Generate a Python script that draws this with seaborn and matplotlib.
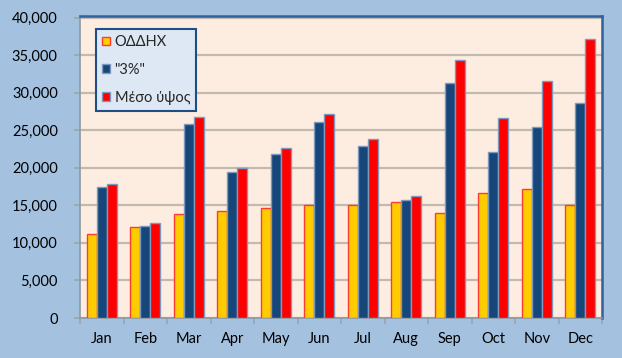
import numpy as np
import pandas as pd
import matplotlib
matplotlib.use("Agg")
import matplotlib.pyplot as plt
from matplotlib.patches import Patch
from matplotlib.ticker import FuncFormatter, FixedLocator
import seaborn as sns

months = ["Jan", "Feb", "Mar", "Apr", "May", "Jun", "Jul", "Aug", "Sep", "Oct", "Nov", "Dec"]
series_names = ["ΟΔΔΗΧ", "\"3%\"", "Μέσο ύψος"]
oddhx = [11200, 12100, 13800, 14200, 14600, 15100, 15100, 15400, 14000, 16700, 17200, 15100]
three_pct = [17400, 12200, 25800, 19400, 21800, 26100, 22900, 15700, 31300, 22100, 25400, 28600]
meso = [17900, 12600, 26700, 20000, 22600, 27100, 23800, 16300, 34300, 26600, 31600, 37200]

colors = ["#FFCC00", "#17477A", "#FF0000"]
edges = ["#FF3B30", "#7F99BE", "#7F99BE"]

df = pd.DataFrame({
    "month": months * 3,
    "series": [series_names[0]] * 12 + [series_names[1]] * 12 + [series_names[2]] * 12,
    "value": oddhx + three_pct + meso,
})

sns.set_theme(style="white")
plt.rcParams["font.family"] = ["Lato", "DejaVu Sans"]

fig = plt.figure(figsize=(6.22, 3.58), dpi=100)
fig.patch.set_facecolor("#A4C1E0")
ax = fig.add_axes([80 / 622, 1 - 318 / 358, 522 / 622, 302 / 358])
ax.set_facecolor("#FDEDE0")

sns.barplot(data=df, x="month", y="value", hue="series", order=months,
            hue_order=series_names, palette=colors, saturation=1, width=0.69,
            gap=0, ax=ax, legend=False, errorbar=None, zorder=3)

for i, cont in enumerate(ax.containers):
    for bar in cont:
        bar.set_edgecolor(edges[i])
        bar.set_linewidth(1.0)

ax.set_xlim(-0.5, 11.5)
ax.set_ylim(0, 40000 * 302 / 300 * 0.9985)
ax.yaxis.set_major_locator(FixedLocator(np.arange(0, 40001, 5000)))
ax.yaxis.set_major_formatter(FuncFormatter(lambda v, p: f"{int(v):,}"))
ax.grid(axis="y", color="#C2B9B1", linewidth=1.6, zorder=0)
ax.set_axisbelow(True)

ax.xaxis.set_minor_locator(FixedLocator(np.arange(-0.5, 12, 1)))
ax.tick_params(axis="x", which="major", length=0, pad=10, labelsize=10.5, colors="#000000")
ax.tick_params(axis="x", which="minor", length=4, width=1.2, color="#9AA3AD", direction="out", bottom=True)
ax.tick_params(axis="y", which="major", length=4, width=1.2, color="#9AA3AD", direction="out",
               pad=12, labelsize=10.5, left=True)
for lab in ax.get_xticklabels() + ax.get_yticklabels():
    lab.set_color("#000000")

ax.set_xlabel("")
ax.set_ylabel("")

for side in ["left", "bottom"]:
    ax.spines[side].set_color("#8E98A4")
    ax.spines[side].set_linewidth(1.2)
for side in ["top", "right"]:
    ax.spines[side].set_color("#2E62A0")
    ax.spines[side].set_linewidth(1.8)

handles = [Patch(facecolor=colors[i], edgecolor=edges[i] if i == 0 else "#7F99BE", linewidth=1.0,
                 label=series_names[i]) for i in range(3)]
leg = ax.legend(handles=handles, loc="upper left", bbox_to_anchor=(16 / 522, 1 - 13 / 302),
                frameon=True, fancybox=False, fontsize=10.5, handlelength=0.55, handleheight=0.55,
                handletextpad=0.3, labelspacing=0.94, borderpad=0.42, borderaxespad=0)
leg.get_frame().set_facecolor("#DDE8F4")
leg.get_frame().set_edgecolor("#1F4E86")
leg.get_frame().set_linewidth(1.5)
leg.get_frame().set_alpha(1)
leg.set_zorder(5)

fig.savefig("out.png", dpi=100, facecolor=fig.get_facecolor())
